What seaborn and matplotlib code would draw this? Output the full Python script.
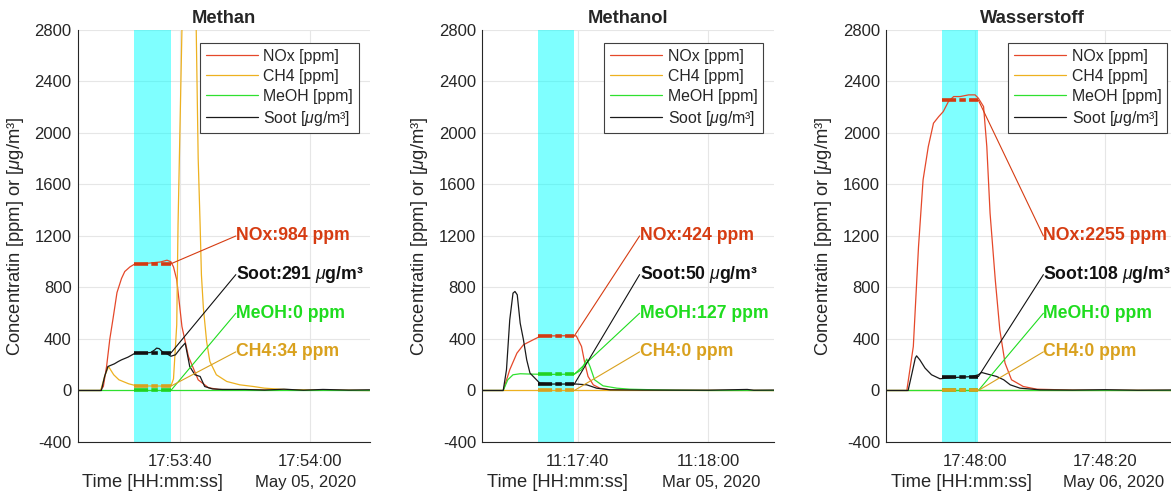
import pandas as pd
import matplotlib
matplotlib.use("Agg")
import matplotlib.pyplot as plt
import matplotlib.dates as mdates
import seaborn as sns

# legend order of the measured species
species = ["NOx [ppm]", "CH4 [ppm]", "MeOH [ppm]", "Soot [$\\mu$g/m³]"]

# ---- Methan (seconds after 17:53:00, 05.05.2020) ----
methan_nox_t = [24.3, 27.7, 28.2, 28.7, 29.2, 29.7, 30.3, 31.0, 31.5, 32.3, 33.1, 35.0, 37.0, 38.0, 38.6,
                39.0, 39.5, 40.3, 41.3, 42.8, 44.4, 46.0, 50.0, 55.0, 60.0, 69.2]
methan_nox_v = [0, 0, 30, 186, 400, 560, 760, 870, 924, 960, 984, 988, 998, 1012, 1000,
                960, 860, 497, 264, 83, 21, 8, 5, 3, 2, 0]
methan_ch4_t = [24.3, 27.8, 28.4, 29.0, 29.8, 30.6, 32.1, 33.1, 35.0, 38.6, 39.0, 39.5, 39.7, 40.3, 40.8,
                42.0, 42.5, 42.8, 43.1, 43.3, 43.6, 44.1, 44.6, 45.6, 47.2, 49.2, 51.3, 53.0, 56.0, 60.0, 69.2]
methan_ch4_v = [0, 0, 110, 186, 122, 83, 52, 39, 35, 34, 90, 510, 1286, 2800, 3900,
                3900, 2800, 1804, 1286, 898, 641, 380, 225, 122, 70, 44, 31, 18, 8, 3, 0]
methan_meoh_t = [24.3, 40.0, 55.0, 69.2]
methan_meoh_v = [0, 0, 0, 0]
methan_soot_t = [24.3, 27.9, 28.4, 28.9, 29.9, 30.5, 31.0, 32.0, 33.1, 34.5, 35.5, 36.1, 36.4, 36.8, 37.3,
                 38.0, 38.6, 39.3, 40.2, 40.8, 41.5, 42.3, 43.1, 43.8, 45.0, 46.5, 50.0, 53.0, 56.0, 59.0,
                 62.0, 66.0, 69.2]
methan_soot_v = [0, 0, 109, 186, 207, 225, 238, 259, 290, 291, 295, 315, 329, 325, 300,
                 285, 266, 277, 335, 368, 186, 122, 109, 31, 12, 8, 8, 3, 10, 2,
                 8, 3, 5]

# ---- Methanol (seconds after 11:17:00, 05.03.2020) ----
methanol_nox_t = [25.4, 28.6, 29.6, 30.7, 31.7, 33.2, 34.2, 36.0, 38.0, 39.8, 40.6, 41.1, 41.6, 42.4,
                  43.4, 45.0, 50.0, 70.1]
methanol_nox_v = [0, 0, 161, 290, 355, 394, 419, 424, 425, 424, 342, 213, 109, 44,
                  18, 5, 2, 0]
methanol_ch4_t = [25.4, 45.0, 70.1]
methanol_ch4_v = [0, 0, 0]
methanol_meoh_t = [25.4, 28.6, 29.3, 30.1, 31.2, 33.0, 36.0, 39.5, 40.6, 41.4, 41.9, 42.6, 43.9, 46.0,
                   48.0, 52.0, 55.0, 60.0, 70.1]
methanol_meoh_v = [0, 0, 83, 122, 130, 127, 125, 127, 161, 244, 186, 83, 36, 18,
                   10, 5, 2, 0, 0]
methanol_soot_t = [25.4, 28.6, 29.1, 29.6, 30.1, 30.4, 30.75, 31.2, 31.7, 32.2, 32.7, 33.7, 34.2, 36.0,
                   38.0, 39.8, 41.4, 42.9, 45.0, 50.0, 60.0, 66.0, 67.0, 70.1]
methanol_soot_v = [0, 0, 161, 548, 756, 769, 743, 523, 394, 238, 135, 83, 57, 50,
                   50, 50, 44, 18, 5, 3, 2, 8, 2, 3]

# ---- Wasserstoff (seconds after 17:47:00, 06.05.2020) ----
wasser_nox_t = [46.35, 49.5, 50.5, 51.3, 52.0, 52.8, 53.6, 54.4, 55.1, 55.9, 56.7, 57.7, 59.0, 60.0,
                60.5, 61.3, 61.8, 62.3, 63.1, 63.8, 64.6, 65.6, 67.4, 69.5, 75.0, 91.2]
wasser_nox_v = [0, 0, 342, 1118, 1636, 1894, 2076, 2127, 2166, 2244, 2283, 2283, 2296, 2296,
                2270, 2205, 1894, 1377, 860, 471, 213, 83, 31, 10, 3, 0]
wasser_ch4_t = [46.35, 70.0, 91.2]
wasser_ch4_v = [0, 0, 0]
wasser_meoh_t = [46.35, 70.0, 91.2]
wasser_meoh_v = [0, 0, 0]
wasser_soot_t = [46.35, 49.7, 50.3, 50.8, 51.0, 51.5, 52.3, 53.3, 54.6, 56.0, 58.0, 59.5, 60.5, 61.0,
                 62.3, 63.3, 64.4, 65.4, 66.9, 70.0, 75.0, 80.0, 85.0, 91.2]
wasser_soot_v = [0, 0, 135, 251, 269, 238, 174, 122, 91, 98, 104, 108, 122, 140,
                 122, 109, 83, 44, 18, 5, 3, 6, 2, 4]

# ---- per panel info ----
panel_titles = ["Methan", "Methanol", "Wasserstoff"]
panel_start = ["2020-05-05 17:53:00", "2020-03-05 11:17:00", "2020-05-06 17:47:00"]
window_start = [32.9, 33.9, 54.9]
window_end = [38.6, 39.5, 60.5]
nox_mean = [984, 424, 2255]
ch4_mean = [34, 0, 0]
meoh_mean = [0, 127, 0]
soot_mean = [291, 50, 108]

panel_series = [
    [(methan_nox_t, methan_nox_v), (methan_ch4_t, methan_ch4_v),
     (methan_meoh_t, methan_meoh_v), (methan_soot_t, methan_soot_v)],
    [(methanol_nox_t, methanol_nox_v), (methanol_ch4_t, methanol_ch4_v),
     (methanol_meoh_t, methanol_meoh_v), (methanol_soot_t, methanol_soot_v)],
    [(wasser_nox_t, wasser_nox_v), (wasser_ch4_t, wasser_ch4_v),
     (wasser_meoh_t, wasser_meoh_v), (wasser_soot_t, wasser_soot_v)],
]

line_colors = ["#E5482A", "#EDB120", "#2FE02F", "#1A1A1A"]
text_colors = ["#D63C12", "#D9A11E", "#1FDC1F", "#111111"]
mark_colors = ["#D33A12", "#D9A11E", "#22D322", "#111111"]

sns.set_style("white")
plt.rcParams["font.family"] = ["Liberation Sans", "DejaVu Sans"]
plt.rcParams["axes.unicode_minus"] = False
plt.rcParams["mathtext.fontset"] = "custom"
plt.rcParams["mathtext.rm"] = "Liberation Sans"
plt.rcParams["mathtext.it"] = "Liberation Sans:italic"
plt.rcParams["mathtext.bf"] = "Liberation Sans:bold"


def build_frame(base, pieces):
    """Long table (time, value, species) for one panel."""
    frames = []
    for name, (t, v) in zip(species, pieces):
        frames.append(pd.DataFrame({
            "time": base + pd.to_timedelta(t, unit="s"),
            "value": v,
            "species": name,
        }))
    return pd.concat(frames, ignore_index=True)


fig = plt.figure(figsize=(11.71, 4.94), dpi=100)
lefts = [0.0666, 0.4119, 0.7569]

for i, left in enumerate(lefts):
    ax = fig.add_axes([left, 0.1053, 0.2491, 0.834])
    base = pd.Timestamp(panel_start[i])
    df = build_frame(base, panel_series[i])

    t0 = base + pd.Timedelta(seconds=window_start[i])
    t1 = base + pd.Timedelta(seconds=window_end[i])
    ax.axvspan(t0, t1, color="#00FFFF", alpha=0.5, lw=0, zorder=1.5)

    sns.lineplot(data=df, x="time", y="value", hue="species", hue_order=species,
                 palette=line_colors, estimator=None, lw=0.9, ax=ax, zorder=2)

    # mean markers over the evaluation window + labelled leader lines
    means = [nox_mean[i], ch4_mean[i], meoh_mean[i], soot_mean[i]]
    labels = [f"NOx:{nox_mean[i]} ppm", f"CH4:{ch4_mean[i]} ppm",
              f"MeOH:{meoh_mean[i]} ppm", f"Soot:{soot_mean[i]} $\\mu$g/m³"]
    label_y = [1200, 300, 600, 900]
    t_text = t1 + pd.Timedelta(seconds=10)
    for k in [2, 1, 3, 0]:
        ax.plot([t0, t1], [means[k], means[k]], color=mark_colors[k], lw=2.6,
                dashes=(3.9, 0.9, 1.8, 0.9), solid_capstyle="butt", zorder=4)
        ax.plot([t1, t_text], [means[k], label_y[k]], color=text_colors[k], lw=0.8, zorder=3)
        ax.text(t_text, label_y[k], labels[k], color=text_colors[k], fontsize=12.7,
                fontweight="bold", ha="left", va="center", zorder=5, clip_on=False)

    ax.set_xlim(df["time"].min(), df["time"].max())
    ax.set_ylim(-400, 2800)
    ax.set_yticks(range(-400, 2801, 400))
    ax.xaxis.set_major_locator(mdates.SecondLocator(bysecond=[0, 20, 40]))
    ax.xaxis.set_major_formatter(mdates.DateFormatter("%H:%M:%S"))
    ax.grid(True, color="#E6E6E6", lw=0.8)
    ax.set_axisbelow(True)
    for side in ["top", "right"]:
        ax.spines[side].set_visible(False)
    for side in ["left", "bottom"]:
        ax.spines[side].set_color("#262626")
        ax.spines[side].set_linewidth(0.8)
    ax.tick_params(axis="both", direction="in", length=3, color="#262626",
                   labelsize=12, labelcolor="#262626")
    ax.tick_params(axis="x", pad=8.5)
    ax.tick_params(axis="y", pad=4.5)

    ax.set_title(panel_titles[i], fontweight="bold", fontsize=13.2, pad=5)
    ax.set_ylabel("Concentratin [ppm] or [$\\mu$g/m³]", fontsize=13.2, color="#262626")
    ax.yaxis.set_label_coords(-0.178, 0.5)
    ax.set_xlabel("Time [HH:mm:ss]", fontsize=13.2, color="#262626")
    ax.xaxis.set_label_coords(0.256, -0.0995)
    ax.xaxis.label.set_va("center")
    ax.text(0.952, -0.0995, base.strftime("%b %d, %Y"), transform=ax.transAxes,
            ha="right", va="center", fontsize=12, color="#262626")

    sns.move_legend(ax, "upper right", bbox_to_anchor=(0.962, 0.968), title=None,
                    frameon=True, fancybox=False, framealpha=1, fontsize=11.4,
                    handlelength=3.3, handletextpad=0.35, labelspacing=0.32,
                    borderpad=0.35, borderaxespad=0)
    leg = ax.get_legend()
    leg.get_frame().set_edgecolor("#404040")
    leg.get_frame().set_linewidth(0.8)
    for h in leg.legend_handles:
        h.set_linewidth(0.9)

fig.savefig("out.png", dpi=100)
